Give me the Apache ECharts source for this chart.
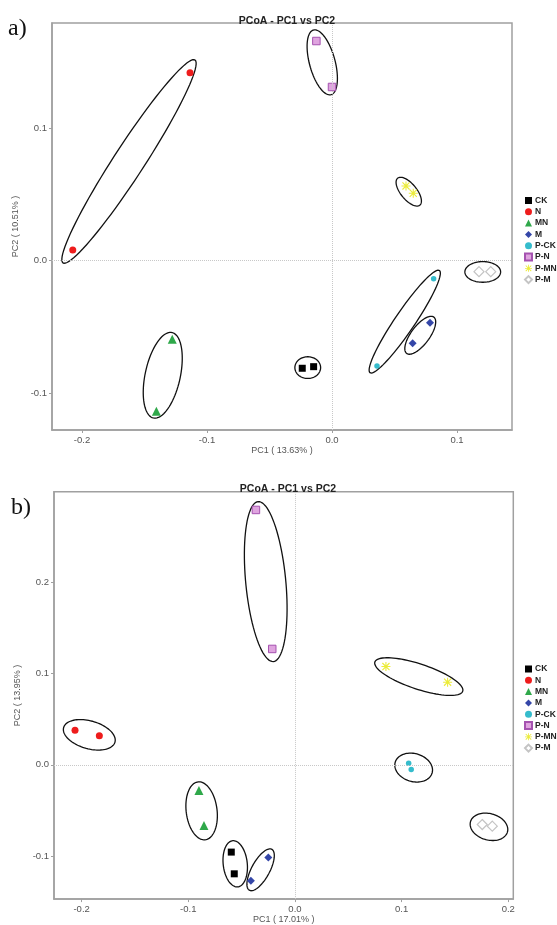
<!DOCTYPE html>
<html>
<head>
<meta charset="utf-8">
<script src="https://cdn.jsdelivr.net/npm/echarts@6/dist/echarts.min.js"></script>
<style>
  html, body { margin: 0; padding: 0; background: #fff; }
  #chart { width: 557px; height: 925px; }
</style>
</head>
<body>
<div id="chart"></div>
<script>
// 分组名
const groups = ['CK', 'N', 'MN', 'M', 'P-CK', 'P-N', 'P-MN', 'P-M'];

// a) PC1 vs PC2 坐标
const a_CK = [[-0.0238, -0.0812], [-0.0147, -0.0800]];
const a_N = [[-0.1136, 0.1419], [-0.2074, 0.0081]];
const a_MN = [[-0.1278, -0.0593], [-0.1405, -0.1137]];
const a_M = [[0.0784, -0.0468], [0.0645, -0.0624]];
const a_PCK = [[0.0813, -0.0136], [0.0360, -0.0795]];
const a_PN = [[-0.0125, 0.1658], [0.0000, 0.1311]];
const a_PMN = [[0.0592, 0.0564], [0.0650, 0.0509]];
const a_PM = [[0.1176, -0.0083], [0.1270, -0.0083]];

// b) PC1 vs PC2 坐标
const b_CK = [[-0.0597, -0.0956], [-0.0569, -0.1194]];
const b_N = [[-0.2062, 0.0380], [-0.1834, 0.0318]];
const b_MN = [[-0.0900, -0.0281], [-0.0853, -0.0665]];
const b_M = [[-0.0250, -0.1015], [-0.0413, -0.1270]];
const b_PCK = [[0.1066, 0.0018], [0.1090, -0.0051]];
const b_PN = [[-0.0366, 0.2793], [-0.0213, 0.1270]];
const b_PMN = [[0.0853, 0.1077], [0.1431, 0.0906]];
const b_PM = [[0.1756, -0.0654], [0.1850, -0.0672]];

// 置信椭圆 [cx, cy, 长半轴, 短半轴, 角度]
const ellipsesA = [
  [-0.0194, -0.0807, 0.0103, 0.0082, 0],
  [-0.1624, 0.0749, 0.0930, 0.0120, 55.4],
  [-0.1354, -0.0865, 0.0331, 0.0140, 76.7],
  [0.0706, -0.0563, 0.0175, 0.0072, 51],
  [0.0582, -0.0460, 0.0475, 0.0078, 54.2],
  [-0.0078, 0.1497, 0.0254, 0.0102, 106.4],
  [0.0614, 0.0521, 0.0135, 0.0062, 132],
  [0.1206, -0.0085, 0.0143, 0.0078, 0]
];
const ellipsesB = [
  [-0.0560, -0.1084, 0.0254, 0.0113, 95],
  [-0.1928, 0.0329, 0.0254, 0.0150, -21],
  [-0.0875, -0.0504, 0.0319, 0.0145, 95.6],
  [-0.0322, -0.1150, 0.0248, 0.0087, 66],
  [0.1113, -0.0030, 0.0184, 0.0150, -28.6],
  [-0.0274, 0.2008, 0.0879, 0.0188, 94.6],
  [0.1161, 0.0967, 0.0442, 0.0135, -21.8],
  [0.1819, -0.0679, 0.0183, 0.0142, -25]
];

// 刻度
const xTicksA = [-0.2, -0.1, 0, 0.1];
const yTicksA = [-0.1, 0, 0.1];
const xTicksB = [-0.2, -0.1, 0, 0.1, 0.2];
const yTicksB = [-0.1, 0, 0.1, 0.2];

const dataA = [a_CK, a_N, a_MN, a_M, a_PCK, a_PN, a_PMN, a_PM];
const dataB = [b_CK, b_N, b_MN, b_M, b_PCK, b_PN, b_PMN, b_PM];

//样式
const asterisk = 'path://M0,4.4L10,4.4L10,5.6L0,5.6Z M4.4,0L5.6,0L5.6,10L4.4,10Z M0.6,1.5L1.5,0.6L9.4,8.5L8.5,9.4Z M8.5,0.6L9.4,1.5L1.5,9.4L0.6,8.5Z';
const styles = [
  { symbol: 'rect', symbolSize: 7, itemStyle: { color: '#000', opacity: 1 } },
  { symbol: 'circle', symbolSize: 7, itemStyle: { color: '#ee1c1c', opacity: 1 } },
  { symbol: 'triangle', symbolSize: 9, itemStyle: { color: '#2fa84a', opacity: 1 } },
  { symbol: 'diamond', symbolSize: 8, itemStyle: { color: '#3446a8', opacity: 1 } },
  { symbol: 'circle', symbolSize: 5.5, itemStyle: { color: '#35bccc', opacity: 1 } },
  { symbol: 'rect', symbolSize: 7.5, itemStyle: { color: '#dfa4df', borderColor: '#a552b0', borderWidth: 1, opacity: 1 } },
  { symbol: asterisk, symbolSize: 9, itemStyle: { color: '#ecec3a', opacity: 1 } },
  { symbol: 'diamond', symbolSize: 10, itemStyle: { color: '#fff', borderColor: '#c4c4c4', borderWidth: 1.2, opacity: 1 } }
];

const font = 'Liberation Sans';

function renderEllipse(params, api) {
  const cx = api.value(0), cy = api.value(1);
  const ra = api.value(2), rb = api.value(3);
  const th = api.value(4) * Math.PI / 180;
  const pts = [];
  for (let k = 0; k < 90; k++) {
    const t = 2 * Math.PI * k / 90;
    const dx = ra * Math.cos(t) * Math.cos(th) - rb * Math.sin(t) * Math.sin(th);
    const dy = ra * Math.cos(t) * Math.sin(th) + rb * Math.sin(t) * Math.cos(th);
    pts.push(api.coord([cx + dx, cy + dy]));
  }
  return {
    type: 'polygon',
    shape: { points: pts },
    style: { fill: 'none', stroke: '#111', lineWidth: 1.3 }
  };
}

function makeAxis(idx, min, max, ticks, name, gap) {
  return {
    type: 'value',
    gridIndex: idx,
    min, max,
    name,
    nameLocation: 'middle',
    nameGap: gap,
    nameTextStyle: { fontFamily: font, fontSize: 9, color: '#555' },
    axisLine: { show: true, onZero: false, lineStyle: { color: '#a0a0a0', width: 1.5 } },
    axisTick: { show: true, length: 3, customValues: ticks, lineStyle: { color: '#a0a0a0' } },
    axisLabel: {
      customValues: ticks,
      fontFamily: font, fontSize: 9.5, color: '#555',
      margin: 5,
      formatter: v => v.toFixed(1)
    },
    splitLine: { show: false }
  };
}

function panelSeries(idx, data, ellipses) {
  const out = [];
  out.push({
    type: 'custom',
    xAxisIndex: idx, yAxisIndex: idx,
    renderItem: renderEllipse,
    data: ellipses,
    silent: true,
    clip: false,
    z: 3,
    markLine: {
      silent: true,
      symbol: 'none',
      label: { show: false },
      lineStyle: { type: 'dotted', color: '#c8c8c8', width: 1 },
      data: [{ xAxis: 0 }, { yAxis: 0 }]
    }
  });
  groups.forEach((g, i) => {
    out.push(Object.assign({
      name: g,
      type: 'scatter',
      xAxisIndex: idx, yAxisIndex: idx,
      data: data[i],
      z: 4
    }, styles[i]));
  });
  return out;
}

const legendBase = {
  orient: 'vertical',
  left: 519,
  itemWidth: 7,
  itemHeight: 7,
  itemGap: 2.3,
  selectedMode: false,
  data: groups,
  textStyle: { fontFamily: font, fontSize: 8.5, fontWeight: 'bold', color: '#222', lineHeight: 7, padding: [0, 0, 0, -2] }
};

const chart = echarts.init(document.getElementById('chart'), null, { renderer: 'canvas' });
chart.setOption({
  animation: false,
  backgroundColor: '#fff',
  title: [
    { text: 'PCoA - PC1 vs PC2', left: 282, top: 11, textAlign: 'center',
      textStyle: { fontFamily: font, fontSize: 10.5, fontWeight: 'bold', color: '#222' } },
    { text: 'PCoA - PC1 vs PC2', left: 283, top: 479, textAlign: 'center',
      textStyle: { fontFamily: font, fontSize: 10.5, fontWeight: 'bold', color: '#222' } }
  ],
  graphic: [
    { type: 'text', x: 8, y: 17, style: { text: 'a)', font: '24px "Liberation Serif"', fill: '#111' } },
    { type: 'text', x: 11, y: 496, style: { text: 'b)', font: '24px "Liberation Serif"', fill: '#111' } }
  ],
  legend: [
    Object.assign({ top: 191 }, legendBase),
    Object.assign({ top: 659.5 }, legendBase)
  ],
  grid: [
    { left: 52, top: 23, width: 460, height: 407, show: true, borderColor: '#a0a0a0', borderWidth: 1.5 },
    { left: 54, top: 491.7, width: 459.3, height: 407.6, show: true, borderColor: '#a0a0a0', borderWidth: 1.5 }
  ],
  xAxis: [
    makeAxis(0, -0.224, 0.144, xTicksA, 'PC1 ( 13.63% )', 15),
    makeAxis(1, -0.2259, 0.2047, xTicksB, 'PC1 ( 17.01% )', 15)
  ],
  yAxis: [
    makeAxis(0, -0.1278, 0.1794, yTicksA, 'PC2 ( 10.51% )', 23),
    makeAxis(1, -0.1471, 0.2993, yTicksB, 'PC2 ( 13.95% )', 24)
  ],
  series: panelSeries(0, dataA, ellipsesA).concat(panelSeries(1, dataB, ellipsesB))
});
</script>
</body>
</html>
